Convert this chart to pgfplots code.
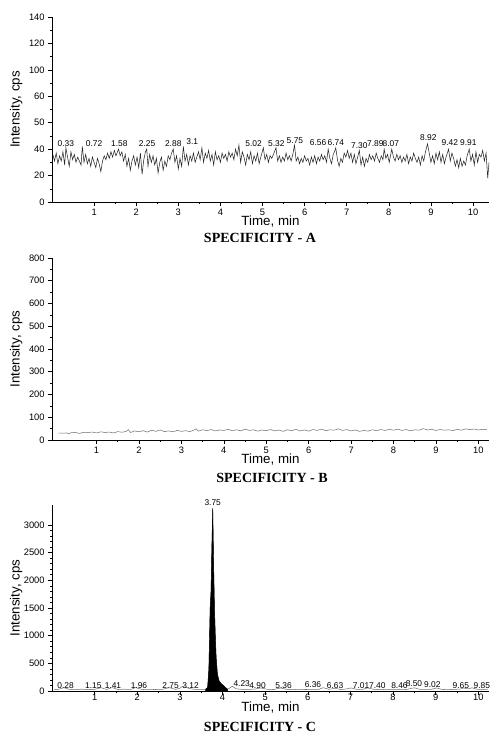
\documentclass[border=0pt]{standalone}
\usepackage{pgfplots}
\pgfplotsset{compat=1.18}
\usepackage{pgfplotstable}
\usepackage{fontspec}
\setmainfont{Liberation Sans}
\newfontfamily\titlefont{Liberation Serif}

% chromatogram A (blank), time [min] vs intensity [cps]
\pgfplotstableread{
t y
0.02 36
0.06 31
0.10 37
0.14 29
0.18 35
0.22 31
0.26 38
0.30 28
0.33 41
0.37 34
0.41 27
0.45 38
0.49 32
0.53 36
0.57 30
0.61 34
0.65 31
0.69 28
0.72 42
0.76 30
0.80 36
0.84 29
0.88 33
0.92 27
0.96 34
1.00 30
1.04 26
1.08 33
1.12 29
1.16 23
1.20 31
1.24 35
1.28 32
1.32 37
1.36 33
1.40 38
1.44 34
1.48 39
1.52 35
1.58 40
1.62 35
1.66 38
1.70 31
1.74 36
1.78 27
1.82 33
1.86 24
1.90 31
1.94 35
1.98 28
2.02 34
2.06 26
2.10 37
2.14 21
2.18 32
2.22 38
2.25 40
2.28 27
2.32 36
2.36 30
2.40 35
2.44 28
2.48 33
2.52 22
2.56 30
2.60 34
2.64 24
2.68 31
2.72 27
2.76 35
2.80 32
2.84 37
2.88 40
2.92 30
2.96 35
3.00 25
3.04 33
3.08 27
3.12 42
3.16 31
3.20 36
3.24 28
3.28 35
3.32 31
3.36 37
3.40 30
3.44 34
3.48 38
3.52 32
3.56 41
3.60 30
3.64 37
3.68 33
3.72 39
3.76 31
3.80 36
3.84 28
3.88 38
3.92 32
3.96 35
4.00 30
4.04 37
4.08 33
4.12 36
4.16 31
4.20 38
4.24 34
4.28 37
4.32 32
4.36 40
4.40 35
4.44 43
4.48 30
4.52 38
4.56 34
4.60 28
4.64 36
4.68 32
4.72 38
4.76 29
4.80 35
4.84 31
4.88 37
4.92 29
4.96 34
5.02 41
5.06 32
5.10 36
5.14 30
5.18 35
5.22 33
5.26 36
5.32 41
5.36 31
5.40 35
5.44 30
5.48 34
5.52 31
5.56 37
5.60 32
5.64 35
5.68 31
5.72 36
5.76 43
5.80 31
5.84 34
5.88 29
5.92 33
5.96 30
6.00 35
6.04 31
6.08 33
6.12 28
6.16 34
6.20 30
6.24 35
6.28 29
6.32 34
6.36 31
6.40 36
6.44 32
6.48 35
6.52 30
6.56 40
6.60 33
6.64 29
6.68 36
6.71 38
6.74 41
6.78 32
6.82 27
6.86 33
6.90 30
6.94 37
6.98 34
7.02 39
7.06 33
7.10 37
7.14 30
7.18 36
7.22 29
7.26 34
7.30 39
7.34 28
7.38 34
7.42 27
7.46 33
7.50 30
7.54 36
7.58 32
7.62 35
7.66 31
7.70 37
7.74 33
7.78 30
7.82 35
7.86 32
7.89 40
7.93 33
7.97 36
8.01 30
8.04 35
8.07 40
8.11 34
8.15 31
8.19 36
8.23 32
8.27 35
8.31 30
8.35 34
8.39 31
8.43 36
8.47 29
8.51 34
8.55 31
8.59 37
8.63 33
8.67 30
8.71 34
8.75 28
8.79 35
8.83 31
8.87 38
8.92 44
8.96 37
9.00 30
9.04 35
9.08 29
9.12 37
9.16 32
9.20 38
9.24 30
9.28 36
9.32 29
9.36 34
9.40 38
9.42 40
9.46 31
9.50 37
9.54 33
9.58 27
9.62 32
9.66 26
9.70 33
9.74 27
9.78 31
9.82 28
9.86 35
9.91 40
9.95 31
9.99 36
10.03 28
10.07 38
10.11 30
10.15 36
10.19 34
10.23 39
10.27 31
10.31 37
10.35 18
10.38 30
}\chromA

% peak labels of A, at the place where each text sits
\pgfplotstableread{
t y lab
0.33 43.9 0.33
1.00 43.9 0.72
1.60 43.9 1.58
2.26 43.9 2.25
2.88 43.9 2.88
3.33 45.4 3.1
4.79 43.9 5.02
5.33 43.9 5.32
5.77 46.2 5.75
6.32 44.6 6.56
6.74 44.6 6.74
7.30 42.4 7.30
7.68 43.9 7.89
8.05 43.9 8.07
8.94 48.4 8.92
9.45 44.6 9.42
9.89 44.6 9.91
}\peaksA

% chromatogram B
\pgfplotstableread{
t y
0.10 30
0.20 30
0.30 31
0.35 27
0.40 32
0.50 33
0.60 29
0.70 34
0.80 33
0.90 35
1.00 31
1.10 36
1.20 33
1.30 35
1.40 31
1.50 37
1.60 34
1.70 38
1.75 46
1.80 33
1.90 40
2.00 36
2.10 41
2.20 35
2.30 43
2.40 38
2.50 44
2.60 37
2.70 40
2.80 36
2.90 42
3.00 38
3.10 41
3.20 37
3.30 44
3.35 49
3.40 39
3.50 45
3.60 41
3.70 46
3.80 40
3.90 44
4.00 42
4.10 47
4.20 41
4.30 45
4.40 40
4.50 48
4.60 42
4.70 45
4.80 39
4.90 44
5.00 41
5.10 46
5.20 40
5.30 44
5.40 38
5.50 45
5.60 41
5.70 47
5.80 40
5.90 44
6.00 39
6.10 46
6.20 42
6.30 48
6.40 41
6.50 45
6.60 43
6.70 49
6.80 42
6.90 46
7.00 40
7.10 44
7.20 38
7.30 42
7.40 39
7.50 45
7.60 41
7.70 46
7.80 42
7.90 47
8.00 43
8.10 48
8.20 42
8.30 46
8.40 40
8.50 45
8.60 43
8.70 50
8.80 44
8.90 47
9.00 42
9.10 46
9.20 43
9.30 45
9.40 41
9.50 47
9.60 43
9.70 49
9.80 46
9.90 48
10.00 44
10.10 47
10.20 45
}\chromB

% chromatogram C (with analyte peak at 3.75 min)
\pgfplotstableread{
t y
0.05 25
0.15 30
0.28 60
0.40 30
0.55 24
0.70 33
0.85 26
1.00 30
1.15 60
1.28 28
1.41 62
1.55 27
1.70 33
1.85 28
1.96 62
2.10 30
2.25 22
2.40 28
2.55 24
2.75 60
2.90 30
3.00 50
3.06 85
3.12 70
3.22 45
3.35 30
3.50 28
3.60 30
3.65 60
3.68 400
3.71 1500
3.73 1800
3.75 2600
3.77 3300
3.79 2300
3.81 1500
3.83 1000
3.85 600
3.88 300
3.92 180
3.97 130
4.02 100
4.07 60
4.12 30
4.18 60
4.23 85
4.32 40
4.45 30
4.60 28
4.75 35
4.90 55
5.05 30
5.20 27
5.36 55
5.50 30
5.65 25
5.80 30
5.95 27
6.10 30
6.25 28
6.36 60
6.50 30
6.63 50
6.78 26
6.92 40
7.01 55
7.15 30
7.28 28
7.40 55
7.55 30
7.70 25
7.85 30
8.00 28
8.15 32
8.30 27
8.46 52
8.50 58
8.62 30
8.78 28
8.90 32
9.02 55
9.15 28
9.30 25
9.45 30
9.58 35
9.65 55
9.75 38
9.85 58
9.98 30
10.10 28
10.22 30
}\chromC

\pgfplotstableread{
t y lab
0.32 100 0.28
0.97 100 1.15
1.43 100 1.41
2.04 100 1.96
2.78 100 2.75
3.25 105 3.12
3.77 3400 3.75
4.45 140 4.23
4.82 100 4.90
5.43 105 5.36
6.12 120 6.36
6.64 100 6.63
7.25 105 7.01
7.63 105 7.40
8.15 100 8.46
8.49 125 8.50
8.92 120 9.02
9.59 100 9.65
10.08 105 9.85
}\peaksC

\pgfplotsset{
  chrom/.style={
    scale only axis,
    width=327.75pt,
    anchor=south west,
    axis x line=bottom,
    axis y line=left,
    axis line style={-, line width=0.5pt},
    tick align=outside,
    major tick length=3pt,
    minor tick length=1.5pt,
    tick style={line width=0.4pt, black},
    xtick={1,2,...,10},
    minor x tick num=1,
    scaled y ticks=false,
    tick label style={font=\fontsize{7}{8}\selectfont},
    /pgf/number format/assume math mode=true,
    /pgf/number format/set thousands separator={},
    xticklabel style={yshift=1.5pt},
    yticklabel style={xshift=1pt},
    label style={font=\fontsize{8.5}{10}\selectfont},
    xlabel={Time, min},
    ylabel={Intensity, cps},
    every axis x label/.style={at={(axis description cs:0.5,0)}, anchor=center, yshift=-15pt},
    every axis y label/.style={at={(axis description cs:-0.082,0.5)}, rotate=90, anchor=center},
  },
  peaklabels/.style={
    draw=none, mark=none,
    nodes near coords,
    point meta=explicit symbolic,
    every node near coord/.style={font=\fontsize{6.3}{7}\selectfont, anchor=center, inner sep=0pt},
  },
}

\begin{document}
\begin{tikzpicture}
\useasboundingbox (0,0) rectangle (375pt,-561pt);

% ---- A ----
\begin{axis}[chrom, at={(39pt,-151.5pt)}, height=138.75pt,
    xmin=0, xmax=10.38, ymin=0, ymax=140,
    ytick={0,20,...,140},
    yticklabels={0,20,40,50,60,100,120,140},
    minor y tick num=1]
\addplot[black!85, line width=0.4pt] table[x=t, y=y] {\chromA};
\addplot[peaklabels] table[x=t, y=y, meta=lab] {\peaksA};
\end{axis}
\node[font=\titlefont\bfseries\fontsize{10.5}{12}\selectfont] at (195pt,-178.5pt) {SPECIFICITY - A};

% ---- B ----
\begin{axis}[chrom, at={(39pt,-330pt)}, height=136.5pt,
    xmin=-0.05, xmax=10.25, ymin=0, ymax=800,
    ytick={0,100,...,800},
    minor y tick num=1]
\addplot[black!55, line width=0.4pt] table[x=t, y=y] {\chromB};
\end{axis}
\node[font=\titlefont\bfseries\fontsize{10.5}{12}\selectfont] at (204pt,-358.5pt) {SPECIFICITY - B};

% ---- C ----
\begin{axis}[chrom, at={(39pt,-518.25pt)}, height=139.5pt,
    xmin=0, xmax=10.25, ymin=0, ymax=3360,
    clip=false,
    ytick={0,500,...,3000},
    minor y tick num=4,
    xticklabel style={yshift=3pt},
    every axis x label/.append style={yshift=2.5pt}]
\addplot[black!55, line width=0.4pt] table[x=t, y=y] {\chromC};
\addplot[fill=black, draw=black, line width=0.3pt, restrict x to domain=3.6:4.12] table[x=t, y=y] {\chromC} \closedcycle;
\addplot[peaklabels] table[x=t, y=y, meta=lab] {\peaksC};
\end{axis}
\node[font=\titlefont\bfseries\fontsize{10.5}{12}\selectfont] at (195pt,-545.25pt) {SPECIFICITY - C};
\end{tikzpicture}
\end{document}
